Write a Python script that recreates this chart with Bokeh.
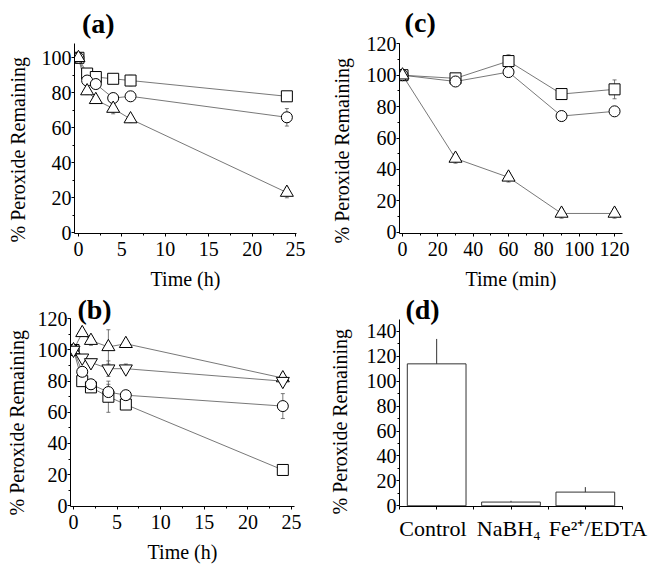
import numpy as np
from bokeh.plotting import figure
from bokeh.layouts import column, row
from bokeh.models import Range1d, SingleIntervalTicker, FixedTicker, Label, Title
from bokeh.embed import file_html
from bokeh.resources import INLINE

# ---------------- data ----------------
time_a = [0, 1, 2, 4, 6, 24]
a_square = [100, 91, 89, 88, 87, 78]
a_square_err = [0, 2, 2, 2, 3, 2]
a_circle = [100, 87, 85, 77, 78, 66]
a_circle_err = [0, 2, 2, 2, 2, 5]
a_triangle = [100, 81, 76, 71, 65, 23]
a_triangle_err = [0, 2, 2, 3, 2, 3]

time_b = [0, 1, 2, 4, 6, 24]
b_triangle = [100, 111, 106, 102, 104, 82]
b_triangle_err = [2, 2, 3, 11, 2, 3]
b_invtriangle = [100, 95, 92, 88, 88, 80]
b_invtriangle_err = [2, 2, 2, 5, 3, 2]
b_circle = [100, 86, 78, 73, 71, 64]
b_circle_err = [2, 3, 2, 5, 2, 8]
b_square = [100, 80, 76, 70, 65, 23]
b_square_err = [2, 2, 2, 10, 2, 2]

time_c = [0, 30, 60, 90, 120]
c_square = [100, 98, 109, 88, 91]
c_square_err = [2, 2, 4, 3, 6]
c_circle = [100, 96, 102, 74, 77]
c_circle_err = [2, 2, 3, 3, 2]
c_triangle = [100, 47, 35, 12, 12]
c_triangle_err = [2, 3, 3, 3, 3]

d_categories = ["Control", "NaBH\u2084", "Fe\u00b2\u207a/EDTA"]
d_values = [114, 3, 11]
d_errors = [20, 1, 4]

Y_LABEL = "% Peroxide Remaining"
FONT = "Liberation Serif"
LINE_COL = "#555555"


def make_fig(width, height, xr, yr, ml, mr, mb, xlabel):
    p = figure(width=width, height=height, x_range=Range1d(*xr), y_range=Range1d(*yr),
               output_backend="svg", toolbar_location=None,
               min_border_left=ml, min_border_right=mr, min_border_top=0, min_border_bottom=mb,
               x_axis_label=xlabel)
    p.background_fill_color = "white"
    p.border_fill_color = "white"
    p.xgrid.visible = False
    p.ygrid.visible = False
    p.outline_line_color = None
    for ax in p.xaxis + p.yaxis:
        ax.axis_line_color = "black"
        ax.axis_line_width = 1
        ax.major_tick_out = 3
        ax.major_tick_in = 0
        ax.minor_tick_out = 2
        ax.minor_tick_in = 0
        ax.major_tick_line_color = "black"
        ax.minor_tick_line_color = "black"
        ax.major_label_text_font = FONT
        ax.major_label_text_font_size = "20px"
        ax.major_label_text_color = "black"
        ax.axis_label_text_font = FONT
        ax.axis_label_text_font_size = "20px"
        ax.axis_label_text_font_style = "normal"
        ax.axis_label_text_color = "black"
    p.yaxis.major_label_standoff = 0
    return p


def y_setup(p, yint, ytop, ylab_standoff, ylab_offset):
    p.yaxis.ticker = SingleIntervalTicker(interval=yint, num_minor_ticks=2)
    p.yaxis.bounds = (p.y_range.start, ytop)
    t = Title(text=Y_LABEL, text_font=FONT, text_font_size="20px", text_font_style="normal",
              text_color="black", align="left", vertical_align="top",
              offset=ylab_offset, standoff=ylab_standoff)
    p.add_layout(t, "left")


def series(p, t, y, err, marker, size):
    t = np.asarray(t, dtype=float)
    y = np.asarray(y, dtype=float)
    e = np.asarray(err, dtype=float)
    p.segment(x0=t, y0=y - e, x1=t, y1=y + e, line_color=LINE_COL, line_width=0.8)
    has = e > 0
    p.scatter(t[has], (y + e)[has], marker="dash", size=4, line_color=LINE_COL, line_width=0.8)
    p.scatter(t[has], (y - e)[has], marker="dash", size=4, line_color=LINE_COL, line_width=0.8)
    p.line(t, y, line_color=LINE_COL, line_width=0.8)
    return (t, y, marker, size)


def markers(p, lst):
    for t, y, marker, size in lst:
        p.scatter(t, y, marker=marker, size=size, fill_color="white",
                  line_color="black", line_width=1)


def panel_title(p, text, x, y):
    p.add_layout(Label(x=x, y=y, text=text, text_font=FONT, text_font_size="28px",
                       text_font_style="bold", text_color="black",
                       text_align="left", text_baseline="top"))


# ---------------- panel (a) ----------------
pa = make_fig(318, 292, (-0.455, 25.11), (-0.4, 132.74), 71, 22, 59, "Time (h)")
pa.xaxis.ticker = SingleIntervalTicker(interval=5, num_minor_ticks=2)
pa.xaxis.major_label_standoff = 5
pa.xaxis.axis_label_standoff = 9
y_setup(pa, 20, 108, 13.5, -9)
ms = []
ms.append(series(pa, time_a, a_square, a_square_err, "square", 11))
ms.append(series(pa, time_a, a_circle, a_circle_err, "circle", 11))
ms.append(series(pa, time_a, a_triangle, a_triangle_err, "triangle", 13))
markers(pa, ms)
panel_title(pa, "(a)", 0.4, 128.7)

# ---------------- panel (c) ----------------
pc = make_fig(332, 292, (-1.70, 124.5), (-0.76, 147.55), 81, 28, 59, "Time (min)")
pc.xaxis.ticker = SingleIntervalTicker(interval=20, num_minor_ticks=2)
pc.xaxis.major_label_standoff = 5
pc.xaxis.axis_label_standoff = 9
y_setup(pc, 20, 120.3, 17.4, -10)
ms = []
ms.append(series(pc, time_c, c_square, c_square_err, "square", 11))
ms.append(series(pc, time_c, c_circle, c_circle_err, "circle", 11))
ms.append(series(pc, time_c, c_triangle, c_triangle_err, "triangle", 13))
markers(pc, ms)
panel_title(pc, "(c)", 1.2, 143.7)

# ---------------- panel (b) ----------------
pb = make_fig(318, 273, (-0.344, 25.34), (-0.45, 136.9), 70, 24, 59, "Time (h)")
pb.xaxis.ticker = SingleIntervalTicker(interval=5, num_minor_ticks=2)
pb.xaxis.major_label_standoff = 5
pb.xaxis.axis_label_standoff = 9
y_setup(pb, 20, 120.5, 9.4, -9)
ms = []
ms.append(series(pb, time_b, b_square, b_square_err, "square", 11))
ms.append(series(pb, time_b, b_circle, b_circle_err, "circle", 11))
ms.append(series(pb, time_b, b_triangle, b_triangle_err, "triangle", 13))
ms.append(series(pb, time_b, b_invtriangle, b_invtriangle_err, "inverted_triangle", 13))
markers(pb, ms)
panel_title(pb, "(b)", 0.45, 136.0)

# ---------------- panel (d) ----------------
pd_ = make_fig(332, 273, (0, 3), (-0.56, 171.3), 80, 28, 59, None)
y_setup(pd_, 20, 149.4, 21.4, -8)
xpos = np.arange(len(d_categories)) + 0.5
label_shift = [-0.05, -0.03, 0.17]
label_pos = [round(float(x + s), 3) for x, s in zip(xpos, label_shift)]
pd_.xaxis.ticker = FixedTicker(ticks=label_pos,
                               minor_ticks=list(np.arange(0, len(d_categories) + 0.01, 0.5)))
pd_.xaxis.major_tick_line_color = None
pd_.xaxis.minor_tick_out = 3
pd_.xaxis.major_label_overrides = {lp: c for lp, c in zip(label_pos, d_categories)}
pd_.xaxis.major_label_text_font_size = "22px"
pd_.xaxis.major_label_standoff = 6
vals = np.asarray(d_values, dtype=float)
errs = np.asarray(d_errors, dtype=float)
pd_.vbar(x=xpos, top=vals, bottom=0, width=0.79, fill_color="white",
         line_color="#333333", line_width=1)
pd_.segment(x0=xpos, y0=vals, x1=xpos, y1=vals + errs, line_color="#333333", line_width=1)
panel_title(pd_, "(d)", 0.08, 170.3)

layout = column(row(pa, pc), row(pb, pd_))

with open("out.html", "w") as f:
    f.write(file_html(layout, INLINE))
